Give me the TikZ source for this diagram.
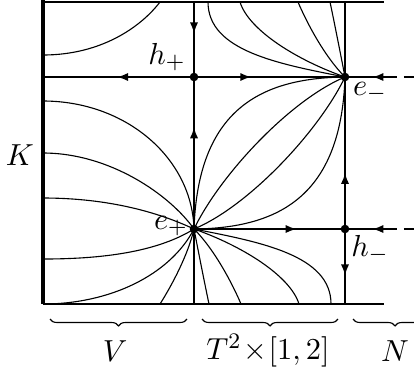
\documentclass[tikz,border=0pt]{standalone}
\usetikzlibrary{decorations.markings,decorations.pathreplacing,arrows.meta}
\begin{document}
\begin{tikzpicture}[x=0.36pt,y=-0.36pt,
  flow/.style={line width=0.4pt},
  sep/.style={line width=0.75pt},
  wall/.style={line width=1.4pt},
  edgeline/.style={line width=0.5pt},
  dot/.style={circle,fill,inner sep=0pt,minimum size=3.1pt},
  marr/.style={postaction={decorate,decoration={markings,mark=at position #1 with {\arrow{Latex[length=4pt,width=3pt]}}}}},
  dsh/.style={line width=0.75pt,dash pattern=on 3.6pt off 2.5pt},
  brc/.style={decorate,decoration={brace,mirror,amplitude=2.5pt}},
  lbl/.style={inner sep=0pt,font=\fontsize{10.95}{13}\selectfont}]
\useasboundingbox (0,0) rectangle (414,374);
\clip (0,0) rectangle (414,374);
% fixed points
\coordinate (hp) at (194,77);
\coordinate (em) at (345,77);
\coordinate (ep) at (194,229);
\coordinate (hm) at (345,229);
\coordinate (tl) at (43,2);
\coordinate (tr) at (384,2);
\coordinate (bl) at (43,304);
\coordinate (br) at (384,304);
\coordinate (mt) at (194,2);
\coordinate (mb) at (194,304);
\coordinate (rt) at (345,2);
\coordinate (rb) at (345,304);
\coordinate (lh) at (43,77);
\coordinate (xu) at (387,77);
\coordinate (xd) at (387,229);
\coordinate (xue) at (420,77);
\coordinate (xde) at (420,229);
% flow lines in V
\draw[flow] (43,55) .. controls (100,55) and (140,28) .. (160,2);
\draw[flow] (43,101) .. controls (126,101) and (192,158) .. (ep);
\draw[flow] (43,153) .. controls (110,153) and (170,195) .. (ep);
\draw[flow] (43,198) .. controls (110,198) and (160,213) .. (ep);
\draw[flow] (43,259) .. controls (110,259) and (160,250) .. (ep);
\draw[flow] (43,304) .. controls (110,304) and (170,275) .. (ep);
\draw[flow] (160,304) .. controls (172,285) and (188,255) .. (ep);
% flow lines in T^2 x [1,2], below
\draw[flow] (ep) .. controls (200,260) and (206,290) .. (209,304);
\draw[flow] (ep) .. controls (215,250) and (233,285) .. (241,304);
\draw[flow] (ep) .. controls (240,245) and (290,275) .. (299,304);
\draw[flow] (ep) .. controls (260,242) and (331,255) .. (331,304);
% above
\draw[flow] (em) .. controls (339,46) and (333,16) .. (330,2);
\draw[flow] (em) .. controls (324,56) and (306,21) .. (298,2);
\draw[flow] (em) .. controls (299,61) and (249,31) .. (240,2);
\draw[flow] (em) .. controls (279,64) and (208,51) .. (208,2);
% between e+ and e-
\draw[flow] (ep) .. controls (198,110) and (260,78) .. (em);
\draw[flow] (ep) .. controls (220,175) and (290,100) .. (em);
\draw[flow] (ep) .. controls (249,206) and (319,131) .. (em);
\draw[flow] (ep) .. controls (279,228) and (341,196) .. (em);
% frame
\draw[wall] (43,0) -- (bl);
\draw[edgeline] (tl) -- (tr);
\draw[edgeline] (bl) -- (br);
% separating lines with arrows
\draw[sep,marr=0.42] (mt) -- (hp);
\draw[sep,marr=0.67] (ep) -- (hp);
\draw[sep] (ep) -- (mb);
\draw[sep] (rt) -- (em);
\draw[sep,marr=0.37] (hm) -- (em);
\draw[sep,marr=0.62] (hm) -- (rb);
\draw[sep,marr=0.51] (hp) -- (lh);
\draw[sep,marr=0.38] (hp) -- (em);
\draw[sep,marr=0.68] (ep) -- (hm);
\draw[sep,marr=0.35] (xu) -- (em);
\draw[sep,marr=0.35] (xd) -- (hm);
\draw[dsh] (xu) -- (xue);
\draw[dsh] (xd) -- (xde);
% dots
\node[dot] (Dhp) at (hp) {};
\node[dot] (Dem) at (em) {};
\node[dot] (Dep) at (ep) {};
\node[dot] (Dhm) at (hm) {};
% labels
\node[lbl] (Lhp) at (167,57) {$h_+$};
\node[lbl] (Lem) at (370,92) {$e_-$};
\node[lbl] (Lep) at (171,226) {$e_+$};
\node[lbl] (Lhm) at (370,249) {$h_-$};
\node[lbl] (LK) at (20,155) {$K$};
% braces
\draw[brc] (50,319) -- (187,319);
\draw[brc] (202,319) -- (338,319);
\draw[brc] (353,319) -- (437,319);
\node[lbl] (LV) at (115,351) {$V$};
\node[lbl] (LT) at (268,351) {$T^2\!\times\![1,2]$};
\node[lbl] (LN) at (395,351) {$N$};
\end{tikzpicture}
\end{document}
